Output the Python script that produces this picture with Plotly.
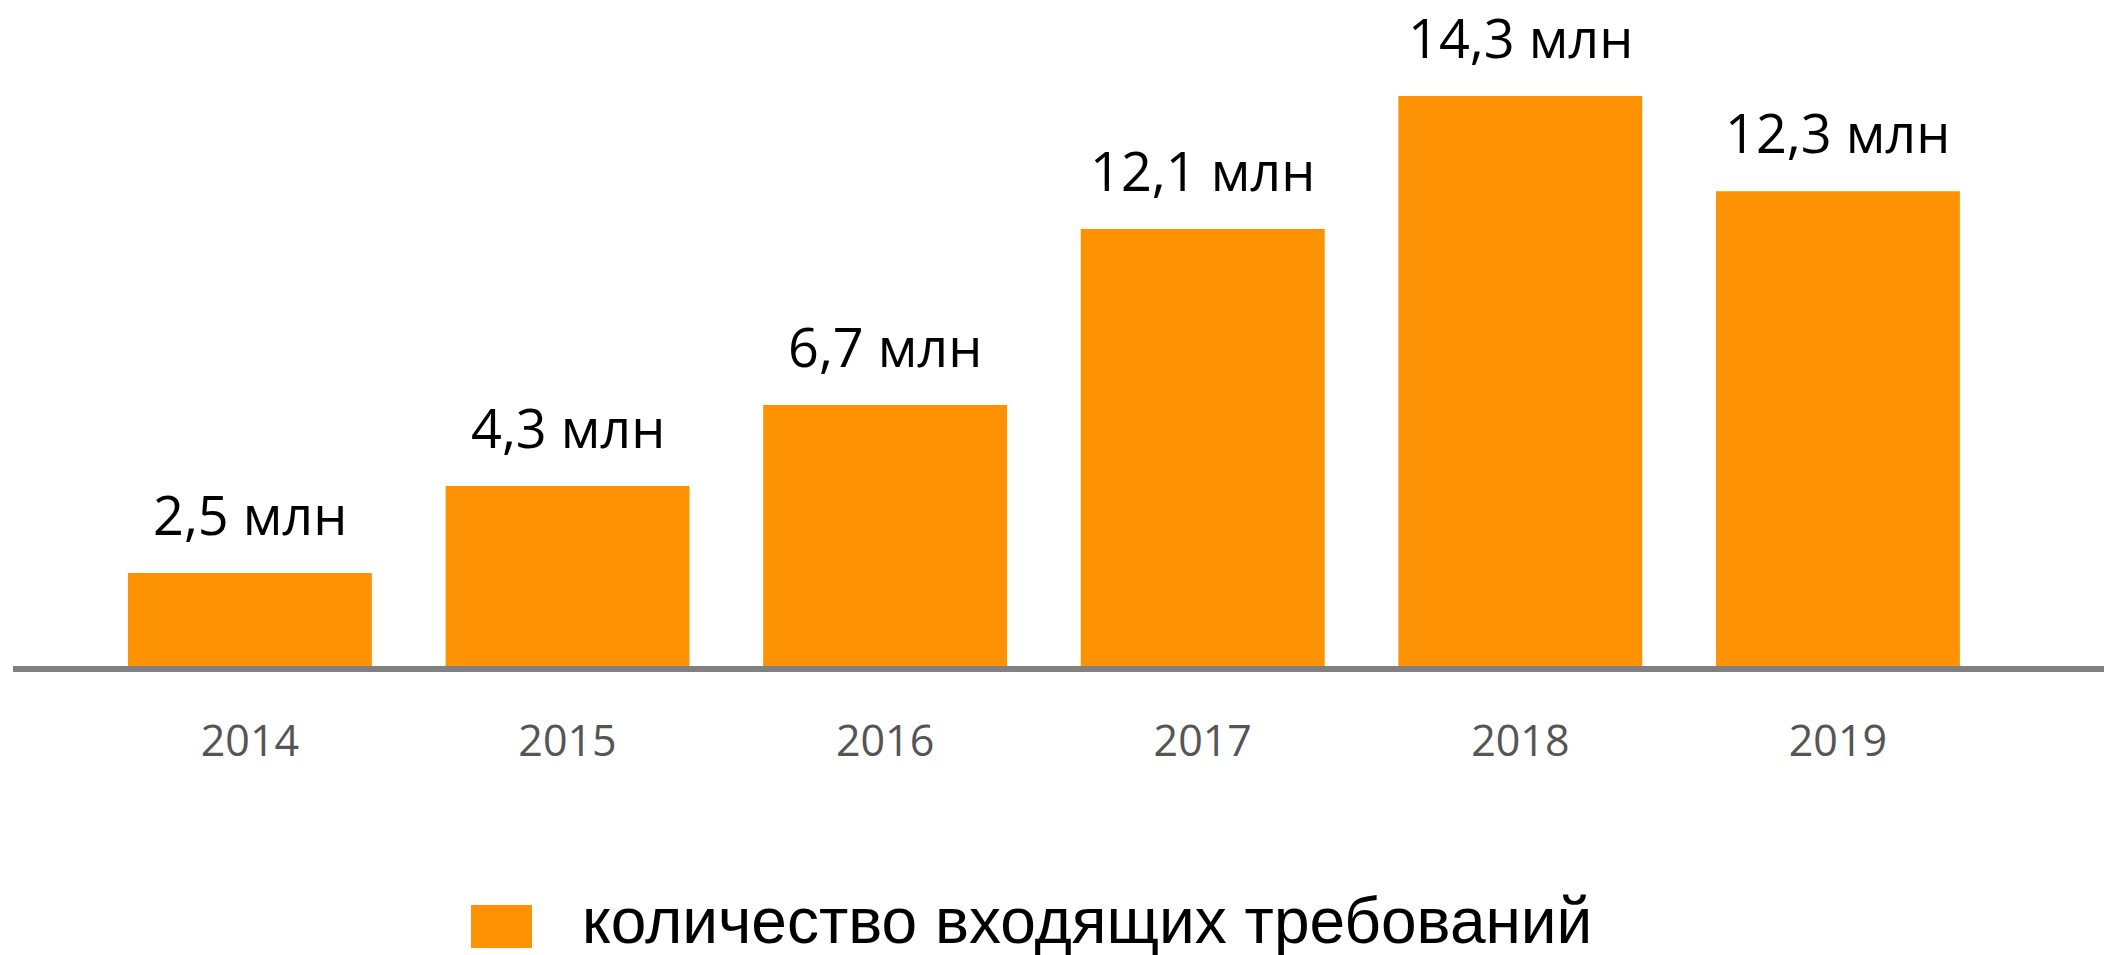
import plotly.graph_objects as go

years = ["2014", "2015", "2016", "2017", "2018", "2019"]
# bar heights as drawn in the picture (млн)
bar_values = [2.41, 4.66, 6.76, 11.32, 14.77, 12.3]
bar_labels = ["2,5 млн", "4,3 млн", "6,7 млн", "12,1 млн", "14,3 млн", "12,3 млн"]
series_name = "количество входящих требований"

ORANGE = "#FC9204"
OFF = 8  # default page body margin
W, H = 2112 - OFF, 955 - OFF
ML, MR, MT = 13 - OFF, 0, 0
plot_bottom = 666 - OFF
MB = H - plot_bottom
plot_h = plot_bottom - MT
px_per_unit = 38.6
ymax = plot_h / px_per_unit


def px_x(px):
    return (px - OFF - ML) / (W - ML - MR)


def px_y(py):
    return (plot_bottom - (py - OFF)) / plot_h


fig = go.Figure()
fig.add_trace(go.Bar(
    x=list(range(len(years))), y=bar_values, name=series_name,
    marker=dict(color=ORANGE, line=dict(width=0)),
    showlegend=False, hoverinfo="skip",
))

for i, (v, lab) in enumerate(zip(bar_values, bar_labels)):
    fig.add_annotation(
        x=i, y=v, text=lab, showarrow=False, xanchor="center", yanchor="bottom",
        yshift=20, font=dict(family="Open Sans", size=54, color="#000000"),
    )

# legend drawn as shape + text
fig.add_shape(type="rect", xref="paper", yref="paper",
              x0=px_x(471), x1=px_x(532), y0=px_y(905), y1=px_y(948),
              fillcolor=ORANGE, line=dict(width=0))
fig.add_annotation(
    xref="paper", yref="paper", x=px_x(580), y=px_y(921),
    xanchor="left", yanchor="middle", showarrow=False, text=series_name,
    font=dict(family="Liberation Sans", size=64, color="#000000"),
)

fig.update_layout(
    width=W, height=H, margin=dict(l=ML, r=MR, t=MT, b=MB, pad=0),
    paper_bgcolor="white", plot_bgcolor="white",
    bargap=0.232, showlegend=False,
    xaxis=dict(
        range=[-0.746, 5.863], tickmode="array", tickvals=list(range(len(years))),
        ticktext=years, showline=True, linecolor="#808080", linewidth=6,
        showgrid=False, zeroline=False, ticks="", ticklabelstandoff=32,
        tickfont=dict(family="Open Sans", size=43, color="#555555"),
        fixedrange=True,
    ),
    yaxis=dict(range=[0, ymax], visible=False, showgrid=False, zeroline=False,
               fixedrange=True),
)

fig.write_html("out.html", config={"displayModeBar": False})
